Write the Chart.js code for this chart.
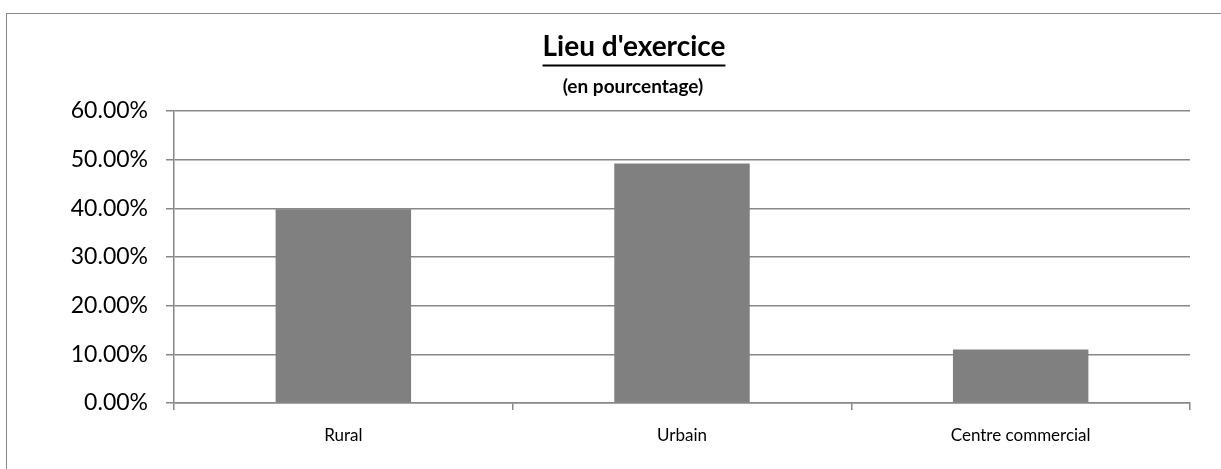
<!DOCTYPE html>
<html>
<head>
<meta charset="utf-8">
<script src="https://cdn.jsdelivr.net/npm/chart.js@4/dist/chart.umd.min.js"></script>
<style>
  html, body { margin: 0; padding: 0; background: #fff; overflow: hidden; }
  #wrap { position: absolute; left: 6px; top: 13px; width: 1230px; height: 470px; border: 1.5px solid #888; box-sizing: border-box; background:#fff; }
  #box { position: absolute; left: 0; top: 0; width: 1221px; height: 469px; }
</style>
</head>
<body>
<div id="wrap"></div>
<div id="box"><canvas id="c"></canvas></div>
<script>
const categories = ["Rural", "Urbain", "Centre commercial"];
const values = [39.8, 49.2, 11.0];
const tickValues = [0, 10, 20, 30, 40, 50, 60];
const titleText = "Lieu d'exercice";
const subtitleText = "(en pourcentage)";

const FONT = "Lato, 'Open Sans', sans-serif";

const titlePlugin = {
  id: 'customTitle',
  afterDraw(chart) {
    const ctx = chart.ctx;
    const cx = 634;
    ctx.save();
    ctx.fillStyle = '#000';
    ctx.textAlign = 'center';
    ctx.textBaseline = 'alphabetic';
    ctx.font = "bold 28px " + FONT;
    ctx.fillText(titleText, cx, 56);
    const w = ctx.measureText(titleText).width;
    ctx.strokeStyle = '#000';
    ctx.lineWidth = 2.2;
    ctx.beginPath();
    ctx.moveTo(cx - w / 2, 65.5);
    ctx.lineTo(cx + w / 2, 65.5);
    ctx.stroke();
    ctx.font = "bold 19px " + FONT;
    ctx.fillText(subtitleText, 633, 93);
    ctx.restore();
  }
};

new Chart(document.getElementById('c'), {
  type: 'bar',
  data: {
    labels: categories,
    datasets: [{
      data: values,
      backgroundColor: '#808080',
      borderWidth: 0,
      barPercentage: 0.4,
      categoryPercentage: 1.0
    }]
  },
  options: {
    responsive: true,
    maintainAspectRatio: false,
    animation: false,
    layout: { padding: { left: 0, right: 31, top: 111, bottom: 0 } },
    plugins: {
      legend: { display: false },
      tooltip: { enabled: false },
      title: { display: false }
    },
    scales: {
      x: {
        afterFit(scale) { scale.height = 66; },
        grid: { display: true, drawOnChartArea: false, offset: true, color: '#888', tickLength: 7, lineWidth: 1.5 },
        border: { color: '#888', width: 1.5 },
        ticks: { color: '#000', font: { family: FONT, size: 17 }, padding: 15 }
      },
      y: {
        min: 0,
        max: 60,
        afterBuildTicks(scale) { scale.ticks = tickValues.map(v => ({ value: v })); },
        afterFit(scale) { scale.width = 174; },
        grid: { color: '#888', lineWidth: 1.5, tickLength: 8 },
        border: { color: '#888', width: 1.5 },
        ticks: {
          color: '#000',
          font: { family: FONT, size: 23 },
          padding: 18,
          callback: v => v.toFixed(2) + '%'
        }
      }
    }
  },
  plugins: [titlePlugin]
});
</script>
</body>
</html>
